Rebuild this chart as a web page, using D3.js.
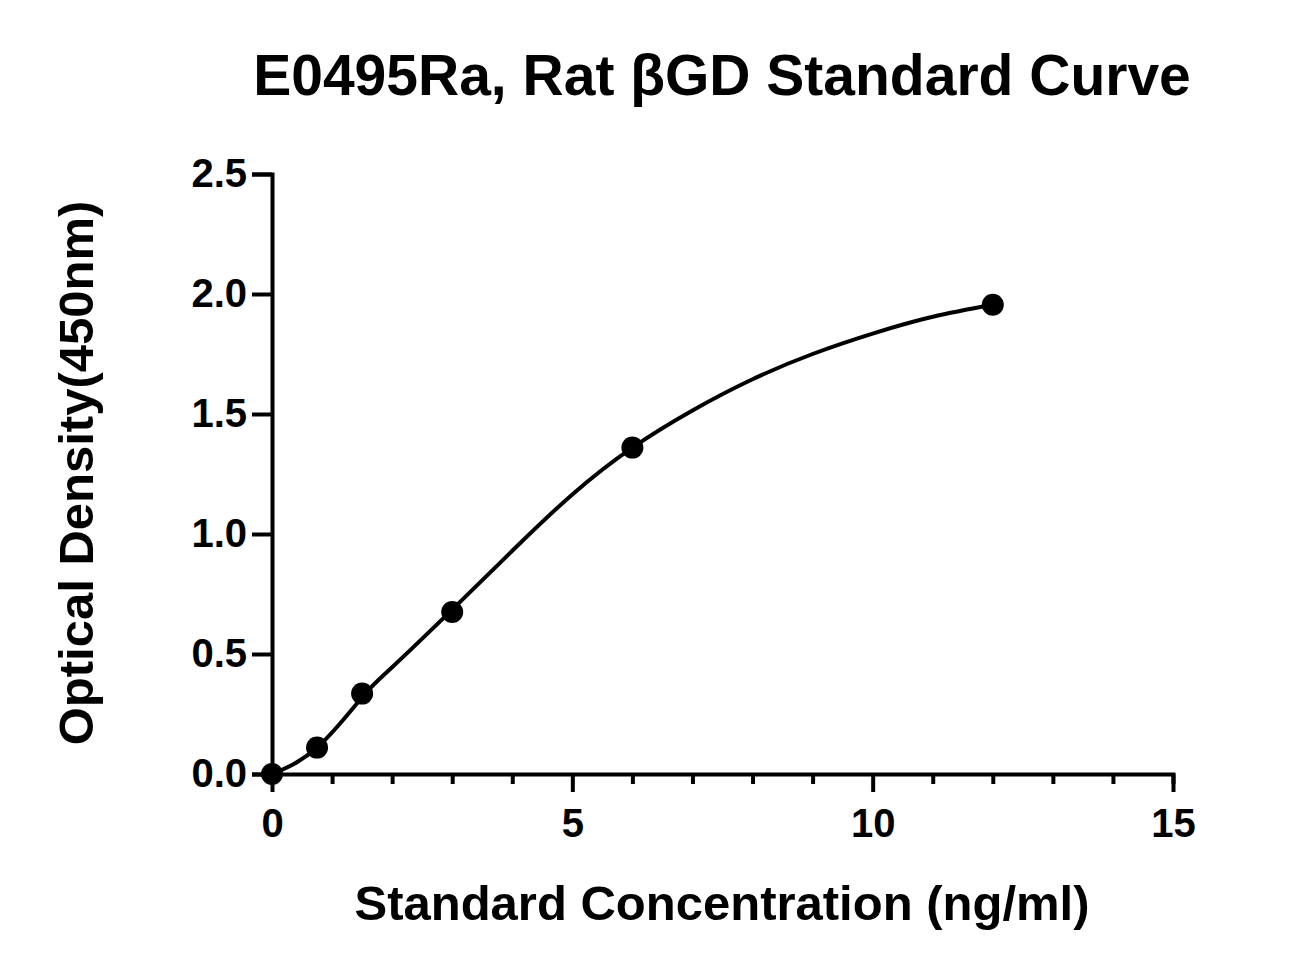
<!DOCTYPE html>
<html><head><meta charset="utf-8">
<script src="https://cdn.jsdelivr.net/npm/d3@7"></script>
<style>body{margin:0;background:#fff}svg{display:block}text{font-family:"Liberation Sans",Arial,sans-serif;font-weight:bold;fill:#000}</style>
</head><body>
<script>
const pointsX=[0,0.75,1.5,3,6,12];
const pointsY=[0.0,0.11,0.335,0.675,1.36,1.955];
const curveX=[0,0.75,1.5,2,3,4,5,6,7,8,9,10,11,12];
const curveY=[0,0.11,0.32,0.445,0.685,0.93,1.165,1.36,1.515,1.645,1.75,1.835,1.905,1.955];
const xTicks=[0,5,10,15];
const yTicks=[0,0.5,1.0,1.5,2.0,2.5];
const svg=d3.select("body").append("svg").attr("width",1314).attr("height",975);
const x=d3.scaleLinear().domain([0,15]).range([272,1173]);
const y=d3.scaleLinear().domain([0,2.5]).range([774,174]);
const xa=svg.append("g").attr("transform","translate(0,774)")
 .call(d3.axisBottom(x).tickValues(d3.range(0,16,1)).tickSize(10).tickFormat(d=>xTicks.includes(d)?d:""));
xa.selectAll(".tick line").attr("y2",d=>xTicks.includes(d)?18:10);
const ya=svg.append("g").attr("transform","translate(272,0)")
 .call(d3.axisLeft(y).tickValues(yTicks).tickSize(20).tickFormat(d3.format(".1f")));
[xa,ya].forEach(a=>{a.select(".domain").attr("stroke","#000").attr("stroke-width",4);
 a.selectAll(".tick line").attr("stroke","#000").attr("stroke-width",4);
 a.selectAll("text").attr("font-size",null).style("font-size","40px").attr("fill","#000");
 a.attr("font-size",null).attr("font-family",null);});
xa.selectAll("text").attr("dy","1.25em");
ya.selectAll("text").attr("dx","-0.05em");
svg.append("path").datum(curveX.map((v,i)=>[v,curveY[i]]))
 .attr("d",d3.line().x(d=>x(d[0])).y(d=>y(d[1])).curve(d3.curveNatural))
 .attr("fill","none").attr("stroke","#000").attr("stroke-width",4);
svg.selectAll("circle.p").data(pointsX).enter().append("circle")
 .attr("cx",d=>x(d)).attr("cy",(d,i)=>y(pointsY[i])).attr("r",11).attr("fill","#000");
svg.append("text").attr("x",722).attr("y",95).attr("text-anchor","middle").style("font-size","57px").text("E0495Ra, Rat βGD Standard Curve");
svg.append("text").attr("x",722).attr("y",920).attr("text-anchor","middle").style("font-size","49px").text("Standard Concentration (ng/ml)");
svg.append("text").attr("transform","translate(93,473) rotate(-90)").attr("text-anchor","middle").style("font-size","49px").text("Optical Density(450nm)");
</script>
</body></html>
